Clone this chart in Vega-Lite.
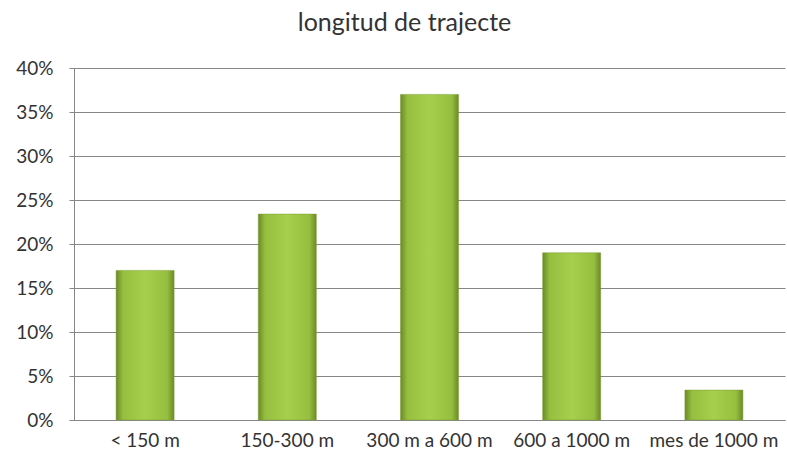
{
  "$schema": "https://vega.github.io/schema/vega-lite/v6.json",
  "width": 711,
  "height": 352,
  "autosize": {"type": "none"},
  "padding": {"left": 74, "top": 68, "right": 2, "bottom": 40},
  "background": "white",
  "title": {
    "text": "longitud de trajecte",
    "font": "Lato",
    "fontSize": 25,
    "fontWeight": "normal",
    "color": "#333333",
    "dx": -25,
    "offset": 23
  },
  "data": {
    "values": [
      {"cat": "< 150 m", "v": 0.17},
      {"cat": "150-300 m", "v": 0.234},
      {"cat": "300 m a 600 m", "v": 0.37},
      {"cat": "600 a 1000 m", "v": 0.19},
      {"cat": "mes de 1000 m", "v": 0.034}
    ]
  },
  "mark": {
    "type": "bar",
    "fill": {
      "gradient": "linear",
      "x1": 0, "x2": 1, "y1": 0, "y2": 0,
      "stops": [
        {"offset": 0, "color": "#6a8a28"},
        {"offset": 0.12, "color": "#96bf3f"},
        {"offset": 0.5, "color": "#a6cf4e"},
        {"offset": 0.88, "color": "#96bf3f"},
        {"offset": 1, "color": "#6a8a28"}
      ]
    },
    "stroke": "#7d9c32",
    "strokeWidth": 0.5
  },
  "encoding": {
    "x": {
      "field": "cat",
      "type": "nominal",
      "sort": null,
      "scale": {"paddingInner": 0.592, "paddingOuter": 0.296},
      "axis": {
        "title": null,
        "labelAngle": 0,
        "labelFont": "Lato",
        "labelFontSize": 19,
        "labelColor": "#333333",
        "labelPadding": 11,
        "ticks": false,
        "domainColor": "#868686",
        "grid": false
      }
    },
    "y": {
      "field": "v",
      "type": "quantitative",
      "scale": {"domain": [0, 0.4]},
      "axis": {
        "title": null,
        "values": [0, 0.05, 0.1, 0.15, 0.2, 0.25, 0.3, 0.35, 0.4],
        "format": ".0%",
        "labelFont": "Lato",
        "labelFontSize": 19,
        "labelColor": "#333333",
        "labelPadding": 16,
        "tickSize": 5,
        "tickColor": "#868686",
        "domainColor": "#868686",
        "gridColor": "#868686",
        "gridOpacity": 1
      }
    }
  },
  "config": {"view": {"stroke": null}}
}
